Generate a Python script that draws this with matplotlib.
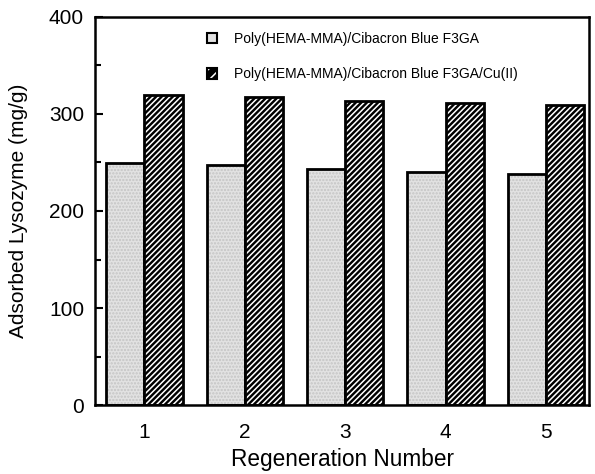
import numpy as np
import matplotlib.pyplot as plt
from matplotlib.patches import Patch
from matplotlib.ticker import MultipleLocator

plt.rcParams['font.family'] = ['Liberation Sans', 'DejaVu Sans']
plt.rcParams['hatch.linewidth'] = 1.1

# data
cycles = [1, 2, 3, 4, 5]
blue_f3ga = [249, 247, 243, 240, 238]
blue_f3ga_cu = [319, 317, 313, 311, 309]
labels = ['Poly(HEMA-MMA)/Cibacron Blue F3GA',
          'Poly(HEMA-MMA)/Cibacron Blue F3GA/Cu(II)']

x = np.array(cycles)
w = 0.38

fig = plt.figure(figsize=(5.95, 4.74), dpi=100)
ax = fig.add_axes([0.16, 0.145, 0.83, 0.82])

# light stippled bars
ax.bar(x - w/2, blue_f3ga, w, color='#e2e2e2', edgecolor='#c4c4c4', hatch='.....', linewidth=0)
ax.bar(x - w/2, blue_f3ga, w, fill=False, edgecolor='black', linewidth=2)
# dark hatched bars: black fill, thin white stripes
ax.bar(x + w/2, blue_f3ga_cu, w, color='black', edgecolor='white', hatch='//////', linewidth=0)
ax.bar(x + w/2, blue_f3ga_cu, w, fill=False, edgecolor='black', linewidth=2)

ax.set_xlim(0.51, 5.43)
ax.set_ylim(0, 400)
ax.set_xticks(cycles)
ax.yaxis.set_major_locator(MultipleLocator(100))
ax.yaxis.set_minor_locator(MultipleLocator(50))
ax.tick_params(axis='y', direction='in', length=6, width=1.5, labelsize=15, pad=8)
ax.tick_params(axis='y', which='minor', direction='in', length=4, width=1.5)
ax.tick_params(axis='x', length=0, labelsize=15, pad=13)
for s in ax.spines.values():
    s.set_linewidth(1.8)

ax.set_xlabel('Regeneration Number', fontsize=16.3, labelpad=4)
ax.set_ylabel('Adsorbed Lysozyme (mg/g)', fontsize=15, labelpad=15)

dark_handle = (Patch(facecolor='black', edgecolor='white', linewidth=0, hatch='///'),
               Patch(fill=False, edgecolor='black', linewidth=1.5))
handles = [Patch(facecolor='#e2e2e2', edgecolor='black', linewidth=1.5), dark_handle]
leg = ax.legend(handles, labels, loc='upper left', frameon=False, fontsize=10,
                handlelength=0.75, handleheight=0.75, labelspacing=1.55,
                bbox_to_anchor=(0.215, 0.975), borderaxespad=0, handletextpad=1.2)

fig.savefig('out.png', dpi=100)
